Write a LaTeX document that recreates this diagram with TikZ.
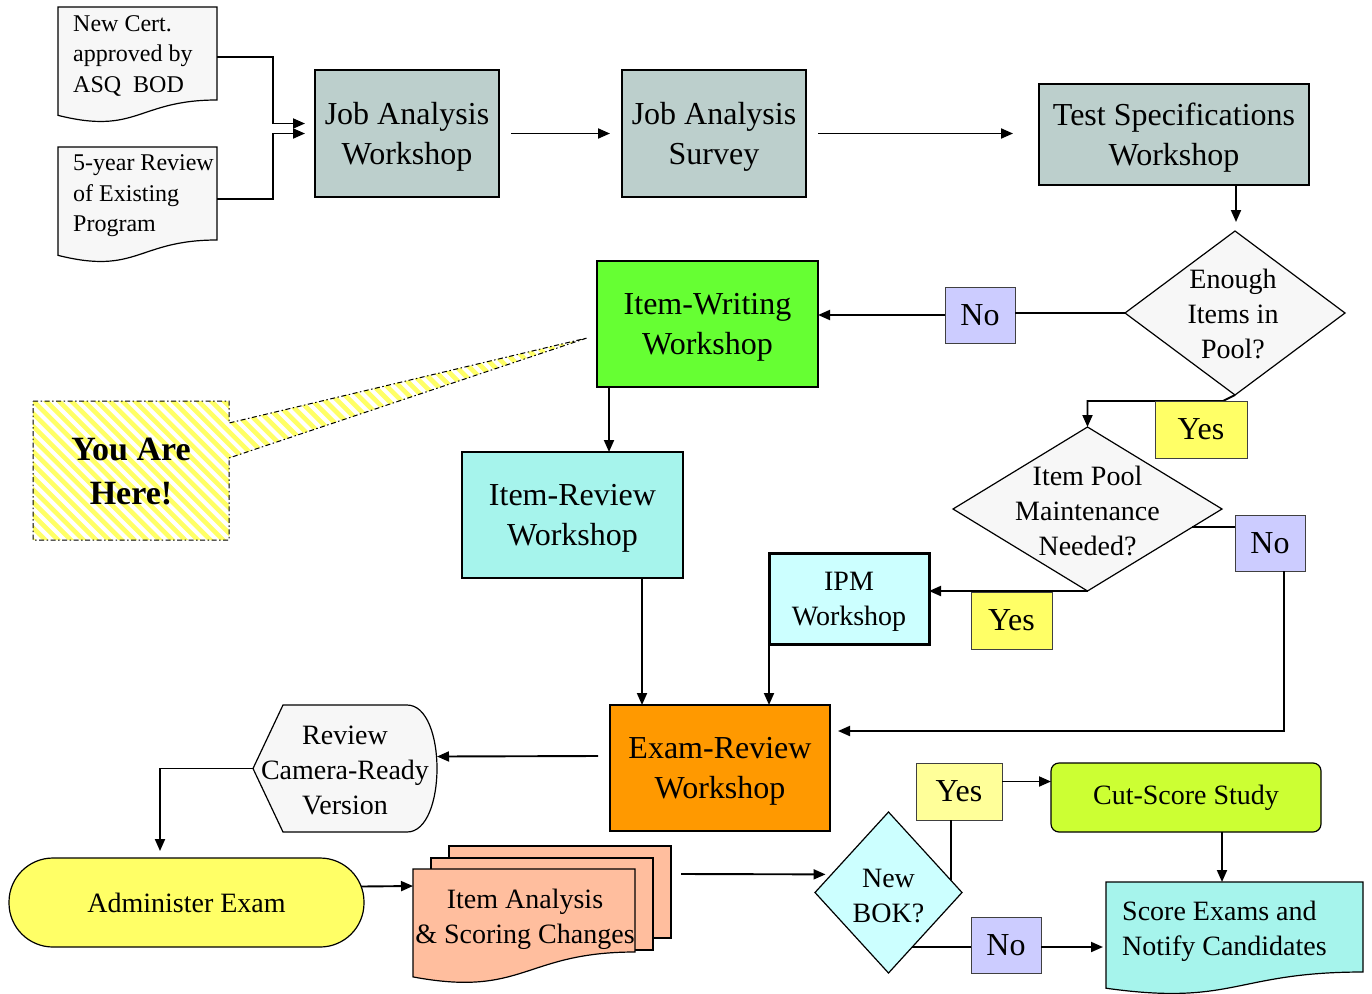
\documentclass[tikz,border=0pt]{standalone}
\usepackage{fontspec}
\setmainfont{Liberation Serif}
\usetikzlibrary{shapes.geometric,arrows.meta,calc}
\definecolor{jagray}{HTML}{BCCFCC}
\definecolor{docgray}{HTML}{F7F7F7}
\definecolor{iwgreen}{HTML}{66FF33}
\definecolor{nolav}{HTML}{CCCCFF}
\definecolor{yesyel}{HTML}{FFFF66}
\definecolor{yespale}{HTML}{FFFF99}
\definecolor{aqua}{HTML}{A6F4EC}
\definecolor{ltcyan}{HTML}{CCFFFF}
\definecolor{orng}{HTML}{FF9900}
\definecolor{salmon}{HTML}{FFBE9E}
\definecolor{lime}{HTML}{CCFF33}
\newcommand\fbig{\fontsize{32}{40}\selectfont}
\newcommand\fmed{\fontsize{28}{35}\selectfont}
\newcommand\fsml{\fontsize{24}{30.5}\selectfont}
\newcommand\fyah{\fontsize{34}{44}\selectfont\bfseries}
% document shape behind an empty node: #1 name, #2 fill, #3 control factor, #4 left end factor
\newcommand\docwave[4]{%
  \filldraw[shapeline, fill=#2] (#1.north west) -- (#1.north east) -- (#1.south east)
    .. controls (#1.south) and ($(#1.north)!#3!(#1.south)$) .. ($(#1.north west)!#4!(#1.south west)$) -- cycle;}
\begin{document}
\begin{tikzpicture}[x=1pt,y=-1pt,
  shapeline/.style={line width=1.2pt},
  box/.style={draw, line width=1.2pt, align=center, inner sep=0pt, outer sep=0pt, font=\fbig, text depth=0pt},
  medbox/.style={box, font=\fmed},
  tag/.style={draw=black!75, line width=0.9pt, inner sep=0pt, outer sep=0pt, font=\fbig, minimum width=#1},
  blank/.style={inner sep=0pt, outer sep=0pt},
  dia/.style={diamond, draw, line width=1.2pt, inner sep=0pt, outer sep=0pt},
  ln/.style={line width=1.9pt},
  arr/.style={line width=1.9pt, -{Triangle[length=12pt,width=10pt]}},
  yahborder/.style={draw, line width=1pt, dash pattern=on 5pt off 2.5pt on 1.5pt off 2.5pt}
]
\fill[white] (0,0) rectangle (1372,993);
\useasboundingbox (0,0) rectangle (1372,993);

% ---------- top row ----------
\node[blank, minimum width=159pt, minimum height=93pt] (newcert) at (137.5,53.5) {};
\docwave{newcert}{docgray}{1.38}{1.165}
\node[font=\fsml, align=left, anchor=west, inner sep=0pt] (newcertT) at ($(newcert.west)+(15,2)$) {New Cert.\\approved by\\ASQ\ \ BOD};

\node[blank, minimum width=159pt, minimum height=93pt] (review5) at (137.5,193.5) {};
\docwave{review5}{docgray}{1.38}{1.165}
\node[font=\fsml, align=left, anchor=west, inner sep=0pt] (review5T) at ($(review5.west)+(15,2.5)$) {5-year Review\\of Existing\\Program};

\node[box, fill=jagray, minimum width=184pt, minimum height=127pt] (jaw) at (407,133.5) {Job Analysis\\Workshop};
\node[box, fill=jagray, minimum width=184pt, minimum height=127pt] (jas) at (714,133.5) {Job Analysis\\Survey};
\node[box, fill=jagray, minimum width=270pt, minimum height=101pt] (tsw) at (1174,134.5) {Test Specifications\\Workshop};

\draw[arr] ($(newcert.east)+(0,3.5)$) -- ++(56,0) |- ($(jaw.west)+(-10,-10)$);
\draw[arr] ($(review5.east)+(0,5.5)$) -- ++(56,0) |- ($(jaw.west)+(-10,0)$);
\draw[arr, shorten <=12pt, shorten >=12pt] (jaw.east) -- (jas.west);
\draw[arr, shorten <=12pt, shorten >=26pt] (jas.east) -- (jas.east -| tsw.west);

% ---------- enough items ----------
\node[dia, fill=docgray, minimum width=220pt, minimum height=164pt] (enough) at (1235,313) {};
\node[font=\fmed, align=center, inner sep=0pt] (enoughT) at (1233,314) {Enough\\Items in\\Pool?};
\coordinate (t1) at ($(tsw.south)+(62,0)$);
\draw[arr, shorten >=9pt] (t1) -- (t1 |- enough.north);

\node[tag=70pt, fill=nolav, minimum height=56pt] (no1) at (980,315) {No};
\node[box, fill=iwgreen, minimum width=221pt, minimum height=126pt] (iww) at (707.5,324) {Item-Writing\\Workshop};
\draw[ln] (enough.west) -- (enough.west -| no1.east);
\draw[arr] (no1.west) -- (no1.west -| iww.east);

% ---------- you are here ----------
\coordinate (tip) at ($(iww.west)+(-10,14)$);
\begin{scope}
  \clip (33,401) -- (229,401) -- (229,423) -- (tip) -- (229,458) -- (229,540) -- (33,540) -- cycle;
  \foreach \a in {-190,-177.3,...,600} \draw[yesyel, line width=4.6pt] (\a,330) -- ++(230,230);
\end{scope}
\draw[yahborder] (33,401) -- (229,401) -- (229,423) -- (tip) -- (229,458) -- (229,540) -- (33,540) -- cycle;
\node[font=\fyah, align=center, inner sep=0pt] (yah) at (131,472) {You Are\\Here!};

% ---------- item pool maintenance ----------
\node[dia, fill=docgray, minimum width=269pt, minimum height=164pt] (maint) at (1087.5,509) {};
\node[font=\fmed, align=center, inner sep=0pt] (maintT) at (1087.5,511) {Item Pool\\Maintenance\\Needed?};
\draw[arr] (enough.south) -- ++(-12,6) -| (maint.north);
\node[tag=92pt, fill=yesyel, minimum height=57pt] (yes1) at (1201,429.5) {Yes};

\node[tag=70pt, fill=nolav, minimum height=56pt] (no2) at (1270,543) {No};
\coordinate (m1) at ($(maint.east)!0.22!(maint.south)$);
\draw[ln] (m1) -- (m1 -| no2.west);

\node[box, fill=aqua, minimum width=221pt, minimum height=126pt] (irw) at (572.5,515) {Item-Review\\Workshop};
\coordinate (w1) at ($(iww.south west)+(12,0)$);
\draw[arr] (w1) -- (w1 |- irw.north);

\node[medbox, fill=ltcyan, line width=3pt, minimum width=160pt, minimum height=91pt] (ipm) at (849,598.5) {IPM\\Workshop};
\draw[arr] (maint.south) -- (maint.south -| ipm.east);
\node[tag=81pt, fill=yesyel, minimum height=57pt] (yes2) at (1011.5,620.5) {Yes};

% ---------- exam review ----------
\node[box, fill=orng, minimum width=220pt, minimum height=126pt] (erw) at (720,768) {Exam-Review\\Workshop};
\coordinate (r1) at ($(irw.south)+(69.5,0)$);
\draw[arr] (r1) -- (r1 |- erw.north);
\draw[arr] (ipm.south west) -- (ipm.south west |- erw.north);
\draw[arr] ($(no2.south)+(14,0)$) |- ($(erw.east)+(8,-37)$);

\node[blank, minimum width=184pt, minimum height=127pt] (review) at (345,768.5) {};
\filldraw[shapeline, fill=docgray] (review.west) -- ($(review.north west)+(30,0)$) -- ($(review.north east)+(-30,0)$)
   .. controls ($(review.north east)+(10,0)$) and ($(review.south east)+(10,0)$) .. ($(review.south east)+(-30,0)$)
   -- ($(review.south west)+(30,0)$) -- cycle;
\node[font=\fmed, align=center, inner sep=0pt] (reviewT) at (345,770) {Review\\Camera-Ready\\Version};
\draw[arr] ($(erw.west)+(-12,-12)$) -- ($(review.east)+(0,-12)$);

% ---------- bottom row ----------
\node[draw, line width=1.2pt, fill=yesyel, rounded corners=44pt, minimum width=355pt, minimum height=89pt, inner sep=0pt, outer sep=0pt, font=\fmed] (ae) at (186.5,902.5) {Administer Exam};
\draw[arr] (review.west) -| ($(ae.north)+(-26.5,-7)$);

\node[blank, draw, line width=1.2pt, fill=salmon, minimum width=222pt, minimum height=92pt] (iaback) at (560,892) {};
\node[blank, draw, line width=1.2pt, fill=salmon, minimum width=222pt, minimum height=92pt] (iamid) at (542,904) {};
\node[blank, minimum width=222pt, minimum height=83pt] (ia) at (524,910.5) {};
\docwave{ia}{salmon}{1.55}{1.30}
\node[font=\fmed, align=center, inner sep=0pt] (iaT) at (525,919) {Item Analysis\\\& Scoring Changes};
\draw[arr] ($(ae.east)+(-3,-16)$) -- ($(ia.west)+(0,-24.5)$);

\node[dia, fill=ltcyan, minimum width=147pt, minimum height=161pt] (bok) at (888.5,892.5) {};
\node[font=\fmed, align=center, inner sep=0pt] (bokT) at (888.5,896) {New\\BOK?};
\coordinate (b1) at ($(bok.west)!0.225!(bok.north)$);
\draw[arr, shorten >=6pt] ($(iaback.east)+(10,-18)$) -- (b1);

\node[tag=86pt, fill=yespale, minimum height=57pt] (yes3) at (959,791.5) {Yes};
\coordinate (b2) at ($(bok.east)!0.15!(bok.north)$);
\draw[ln] (b2) -- (b2 |- yes3.south);

\node[draw, line width=1.2pt, fill=lime, rounded corners=8pt, minimum width=270pt, minimum height=69pt, inner sep=0pt, outer sep=0pt, font=\fmed] (cut) at (1186,797.5) {Cut-Score Study};
\coordinate (y3) at ($(yes3.east)+(0,-10)$);
\draw[arr] (y3) -- (y3 -| cut.west);

\node[tag=70pt, fill=nolav, minimum height=56pt] (no3) at (1006,945) {No};
\coordinate (b3) at ($(bok.east)!0.68!(bok.south)$);
\draw[ln] (b3) -- (b3 -| no3.west);

\node[blank, minimum width=257pt, minimum height=90pt] (score) at (1234.5,927) {};
\docwave{score}{aqua}{1.38}{1.18}
\node[font=\fmed, align=left, anchor=west, inner sep=0pt] (scoreT) at ($(score.west)+(16,4)$) {Score Exams and\\Notify Candidates};
\coordinate (c1) at ($(cut.south)+(36,0)$);
\draw[arr] (c1) -- (c1 |- score.north);
\coordinate (n3) at ($(no3.east)+(0,2)$);
\draw[arr, shorten >=3pt] (n3) -- (n3 -| score.west);
\end{tikzpicture}
\end{document}
